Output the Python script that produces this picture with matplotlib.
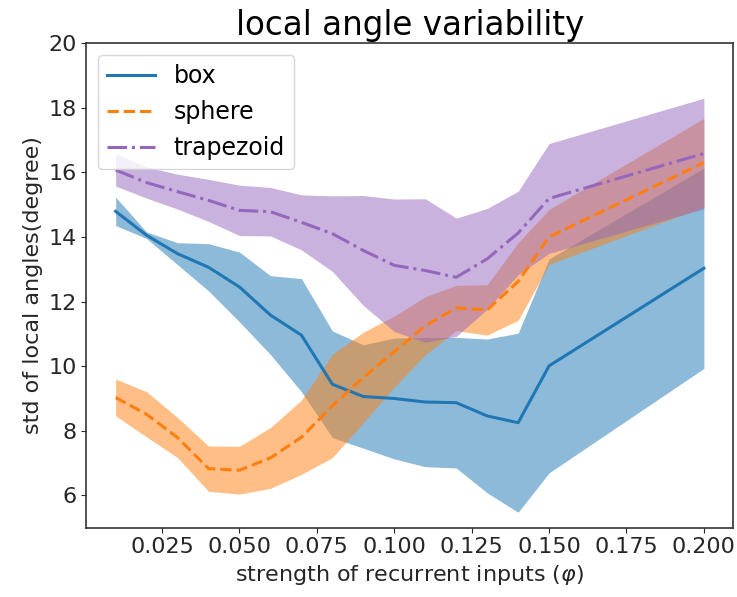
import numpy as np
import matplotlib
matplotlib.use('Agg')
import matplotlib.pyplot as plt

# strength of recurrent inputs
phi = [0.01, 0.02, 0.03, 0.04, 0.05, 0.06, 0.07, 0.08,
       0.09, 0.10, 0.11, 0.12, 0.13, 0.14, 0.15, 0.20]

# mean and std of local angles (degree)
box_mean = [14.79, 14.05, 13.48, 13.06, 12.45, 11.58, 10.96, 9.44,
            9.06, 9.0, 8.89, 8.87, 8.46, 8.25, 10.01, 13.03]
box_std = [0.44, 0.10, 0.34, 0.73, 1.08, 1.22, 1.75, 1.65,
           1.60, 1.87, 2.00, 2.02, 2.38, 2.77, 3.31, 3.10]

sphere_mean = [9.03, 8.51, 7.79, 6.83, 6.78, 7.16, 7.8, 8.77,
               9.65, 10.45, 11.25, 11.8, 11.74, 12.62, 14.0, 16.3]
sphere_std = [0.57, 0.70, 0.62, 0.70, 0.74, 0.94, 1.15, 1.60,
              1.40, 1.10, 0.90, 0.70, 0.78, 1.20, 0.85, 1.37]

trap_mean = [16.07, 15.68, 15.4, 15.13, 14.82, 14.78, 14.45, 14.1,
             13.58, 13.12, 12.96, 12.75, 13.32, 14.12, 15.19, 16.58]
trap_std = [0.50, 0.48, 0.54, 0.65, 0.78, 0.75, 0.85, 1.17,
            1.70, 2.05, 2.22, 1.83, 1.56, 1.29, 1.70, 1.71]

labels = ['box', 'sphere', 'trapezoid']
colors = ['#1f77b4', '#ff7f0e', '#9467bd']
styles = ['-', '--', '-.']


def main():
    plt.rcParams['font.family'] = ['DejaVu Sans']
    fig, ax = plt.subplots(figsize=(7.37, 5.97), dpi=100)
    fig.subplots_adjust(left=0.117, right=0.995, top=0.928, bottom=0.116)

    x = np.array(phi)
    series = [(box_mean, box_std), (sphere_mean, sphere_std), (trap_mean, trap_std)]
    for (m, s), lab, c, ls in zip(series, labels, colors, styles):
        m = np.array(m)
        s = np.array(s)
        ax.plot(x, m, ls, color=c, lw=2.2, label=lab)
        ax.fill_between(x, m - s, m + s, color=c, alpha=0.5, lw=0)

    ax.set_ylim(5, 20)
    ax.set_title('local angle variability', fontsize=23.5)
    ax.set_xlabel('strength of recurrent inputs ($\\varphi$)', fontsize=16, color='#262626')
    ax.set_ylabel('std of local angles(degree)', fontsize=16, color='#262626')
    ax.tick_params(labelsize=16, colors='#262626')
    for sp in ax.spines.values():
        sp.set_color('#333333')
        sp.set_linewidth(1.2)
    ax.legend(loc='upper left', fontsize=17, handlelength=2.0)

    fig.savefig('out.png', dpi=100)


if __name__ == "__main__":
    main()
